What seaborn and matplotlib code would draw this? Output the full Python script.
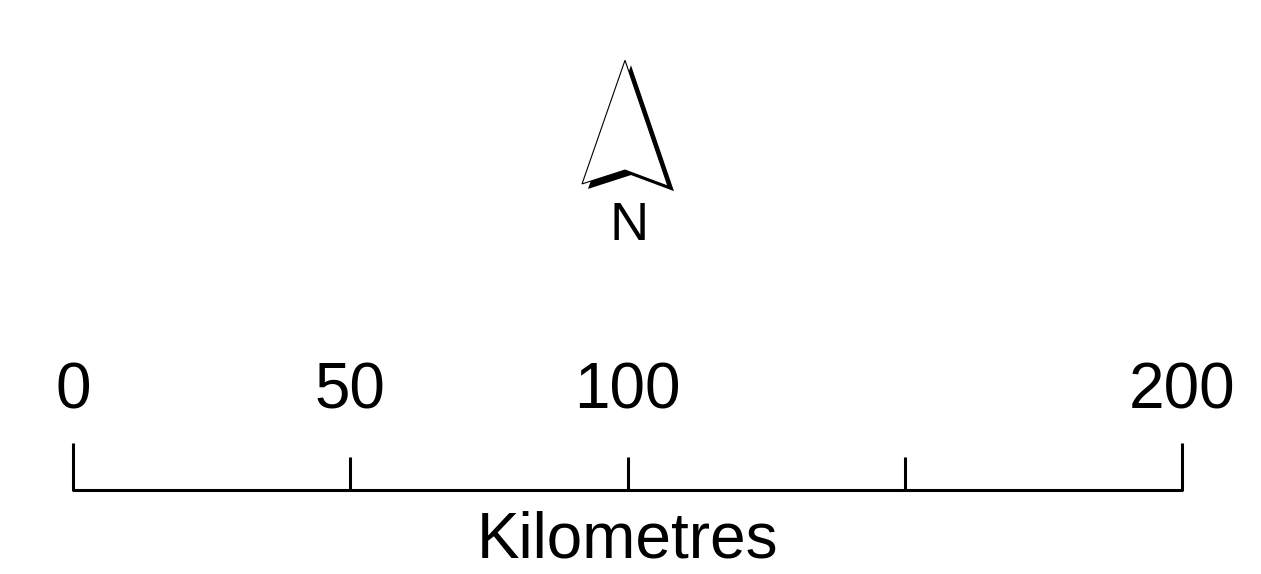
import numpy as np
import matplotlib.pyplot as plt
import seaborn as sns

sns.set_theme(style="white")
plt.rcParams['font.family'] = ['Liberation Sans', 'DejaVu Sans']

# scale bar, in kilometres
tick_km = [0, 50, 100, 150, 200]
label_km = [0, 50, 100, 200]
unit_label = "Kilometres"
north_label = "N"

# north arrow outline (km units, same scale on both axes)
arrow_x = [99.55, 91.8, 99.55, 107.3, 99.55]
arrow_y = [77.5, 55.2, 57.7, 54.8, 77.5]
shadow_dx, shadow_dy = 1.08, -0.9

fig = plt.figure(figsize=(12.61, 5.74), dpi=100)
ax = fig.add_axes([0, 0, 1, 1])
ax.set_xlim(-13.16, 214.24)
ax.set_ylim(-15.15, 88.37)
ax.axis("off")

# bar
sns.lineplot(x=[tick_km[0], tick_km[-1]], y=[0, 0], ax=ax, color="black", lw=2.2)
for k in tick_km:
    top = 8.5 if k in (tick_km[0], tick_km[-1]) else 6.0
    ax.plot([k, k], [0, top], color="black", lw=2.2, solid_capstyle="butt")
for k in label_km:
    ax.text(k, 14.7, str(k), ha="center", va="baseline", fontsize=46, color="black")
ax.text(100, -12.1, unit_label, ha="center", va="baseline", fontsize=46, color="black")

# north arrow: black shadow then white face
sx = [x + shadow_dx for x in arrow_x]
sy = [y + shadow_dy for y in arrow_y]
ax.fill(sx, sy, color="black", lw=0)
ax.fill(arrow_x, arrow_y, facecolor="white", edgecolor="black", lw=0.8)
ax.text(100.2, 45.1, north_label, ha="center", va="baseline", fontsize=39, color="black")

fig.savefig("out.png", dpi=100)
